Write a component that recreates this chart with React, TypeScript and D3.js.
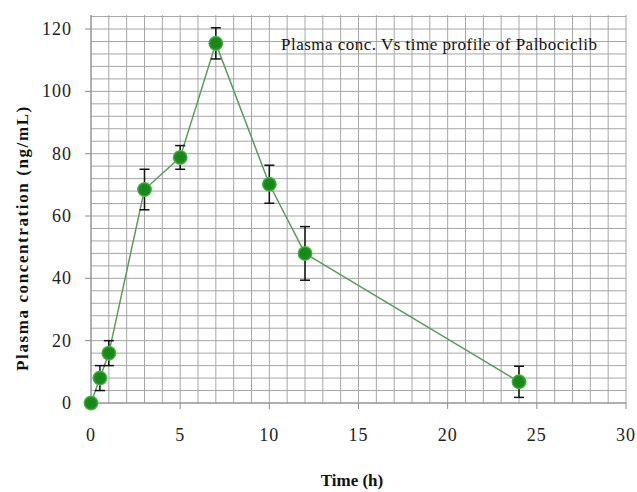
import React from 'react';
import * as d3 from 'd3';

const times = [0, 0.5, 1, 3, 5, 7, 10, 12, 24];
const conc = [0, 8, 16, 68.5, 78.8, 115.4, 70.2, 48, 6.8];
const errors = [0, 4, 4, 6.5, 3.8, 5, 6.1, 8.6, 5];
const xTicks = [0, 5, 10, 15, 20, 25, 30];
const yTicks = [0, 20, 40, 60, 80, 100, 120];

const App = () => {
  const Width = 637;
  const Height = 492;
  const margin = { top: 15, right: 11, bottom: 89, left: 91 };
  const chartWidth = Width - margin.left - margin.right;
  const chartHeight = Height - margin.top - margin.bottom;

  const xScale = d3.scaleLinear().domain([0, 30]).range([0, chartWidth]);
  const yScale = d3.scaleLinear().domain([0, 124.5]).range([chartHeight, 0]);

  const vGrid = d3.range(0, 31, 1);
  const hGrid = d3.range(0, 125, 4);

  const line = d3
    .line<number>()
    .x((d, i) => xScale(times[i]))
    .y((d) => yScale(d));

  const fontFamily = "'Liberation Serif', 'Times New Roman', Times, serif";

  return (
    <svg width={Width} height={Height} style={{ position: 'absolute', left: 0, top: 0 }}>
      <rect width={Width} height={Height} fill="#ffffff" />
      <defs>
        <radialGradient id="dot">
          <stop offset="0%" stopColor="#178417" />
          <stop offset="70%" stopColor="#1b8a1b" />
          <stop offset="100%" stopColor="#5cc25c" />
        </radialGradient>
      </defs>
      <g transform={`translate(${margin.left}, ${margin.top})`}>
        {/* grid */}
        {vGrid.map((v) => (
          <line key={'v' + v} x1={xScale(v)} x2={xScale(v)} y1={0} y2={chartHeight} stroke="#a6a6a6" strokeWidth={1} />
        ))}
        {hGrid.map((v) => (
          <line key={'h' + v} x1={0} x2={chartWidth} y1={yScale(v)} y2={yScale(v)} stroke="#a6a6a6" strokeWidth={1} />
        ))}
        <line x1={0} x2={chartWidth} y1={yScale(0)} y2={yScale(0)} stroke="#8c8c8c" strokeWidth={1} />
        <line x1={0} x2={0} y1={0} y2={chartHeight} stroke="#8c8c8c" strokeWidth={1} />

        {/* x ticks */}
        {xTicks.map((t) => (
          <g key={'xt' + t}>
            <line x1={xScale(t)} x2={xScale(t)} y1={chartHeight} y2={chartHeight + 6} stroke="#8c8c8c" />
            <text
              x={xScale(t)}
              y={chartHeight + 38}
              textAnchor="middle"
              fontFamily={fontFamily}
              fontSize={18}
              letterSpacing={1}
              fill="#222"
            >
              {t}
            </text>
          </g>
        ))}

        {/* y ticks */}
        {yTicks.map((t) => (
          <g key={'yt' + t}>
            <line x1={-6} x2={0} y1={yScale(t)} y2={yScale(t)} stroke="#8c8c8c" />
            <text
              x={-19}
              y={yScale(t) + 6}
              textAnchor="end"
              fontFamily={fontFamily}
              fontSize={18}
              letterSpacing={1}
              fill="#222"
            >
              {t}
            </text>
          </g>
        ))}

        {/* series line */}
        <path d={line(conc) || ''} fill="none" stroke="#5e9c5e" strokeWidth={1.5} />

        {/* error bars */}
        {conc.map((d, i) =>
          errors[i] > 0 ? (
            <g key={'e' + i} stroke="#111" strokeWidth={1.5}>
              <line x1={xScale(times[i])} x2={xScale(times[i])} y1={yScale(d + errors[i])} y2={yScale(d - errors[i])} />
              <line x1={xScale(times[i]) - 5} x2={xScale(times[i]) + 5} y1={yScale(d + errors[i])} y2={yScale(d + errors[i])} />
              <line x1={xScale(times[i]) - 5} x2={xScale(times[i]) + 5} y1={yScale(d - errors[i])} y2={yScale(d - errors[i])} />
            </g>
          ) : null
        )}

        {/* markers */}
        {conc.map((d, i) => (
          <circle key={'c' + i} cx={xScale(times[i])} cy={yScale(d)} r={7.5} fill="url(#dot)" />
        ))}

        {/* title */}
        <text x={190} y={35} fontFamily={fontFamily} fontSize={17} fill="#111" textLength={316}>
          Plasma conc. Vs time profile of Palbociclib
        </text>
      </g>

      {/* axis titles */}
      <text
        x={352}
        y={486}
        textAnchor="middle"
        fontFamily={fontFamily}
        fontSize={17}
        fontWeight="bold"
        fill="#111"
      >
        Time (h)
      </text>
      <text
        transform={`translate(28, 238) rotate(-90)`}
        textAnchor="middle"
        fontFamily={fontFamily}
        fontSize={17}
        fontWeight="bold"
        letterSpacing={1.6}
        fill="#111"
      >
        Plasma concentration (ng/mL)
      </text>
    </svg>
  );
};

export default App;
